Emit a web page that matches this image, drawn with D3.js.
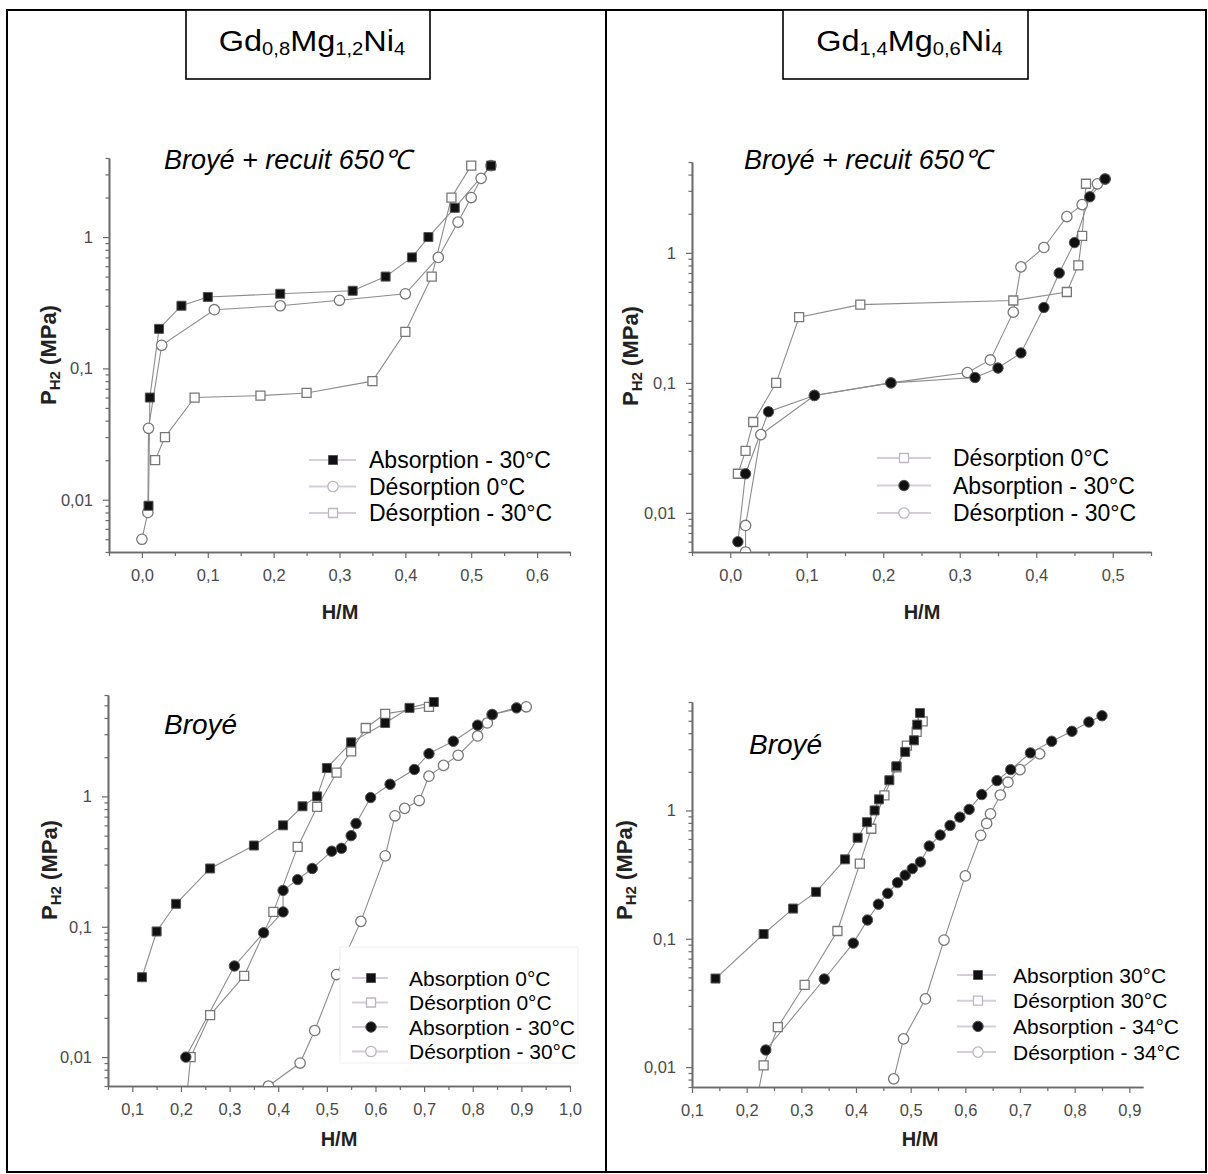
<!DOCTYPE html>
<html><head><meta charset="utf-8">
<script src="https://cdn.jsdelivr.net/npm/d3@7"></script>
<style>
body{margin:0;background:#fff;}
svg{display:block;font-family:"Liberation Sans",Arial,sans-serif;}
</style></head><body>
<svg id="c" width="1208" height="1174"></svg>
<script>
// ================= DATA =================
const compoundTitles = [
  [["Gd",0],["0,8",1],["Mg",0],["1,2",1],["Ni",0],["4",1]],
  [["Gd",0],["1,4",1],["Mg",0],["0,6",1],["Ni",0],["4",1]]
];
const treatmentLabels = ["Broyé + recuit 650℃", "Broyé + recuit 650℃", "Broyé", "Broyé"];
const xAxisTitle = "H/M";

// tick values
const tlXTicks = [0.0, 0.1, 0.2, 0.3, 0.4, 0.5, 0.6];
const trXTicks = [0.0, 0.1, 0.2, 0.3, 0.4, 0.5];
const blXTicks = [0.1, 0.2, 0.3, 0.4, 0.5, 0.6, 0.7, 0.8, 0.9, 1.0];
const brXTicks = [0.1, 0.2, 0.3, 0.4, 0.5, 0.6, 0.7, 0.8, 0.9];
const yTicks = [0.01, 0.1, 1];

// Top-left: Gd0,8Mg1,2Ni4 Broyé + recuit 650°C
const tlLegend = ["Absorption - 30°C", "Désorption 0°C", "Désorption - 30°C"];
const tlAbs30 = [[0.01,0.009],[0.012,0.06],[0.026,0.2],[0.06,0.30],[0.10,0.35],[0.21,0.37],[0.32,0.39],[0.37,0.50],[0.41,0.70],[0.435,1.0],[0.475,1.67],[0.53,3.5]];
const tlDes0  = [[0.0,0.005],[0.009,0.008],[0.01,0.035],[0.03,0.15],[0.11,0.28],[0.21,0.30],[0.30,0.33],[0.40,0.37],[0.45,0.70],[0.48,1.3],[0.50,2.0],[0.515,2.8],[0.53,3.5]];
const tlDes30 = [[0.02,0.02],[0.035,0.03],[0.08,0.06],[0.18,0.062],[0.25,0.065],[0.35,0.08],[0.40,0.19],[0.44,0.5],[0.47,2.0],[0.50,3.5]];

// Top-right: Gd1,4Mg0,6Ni4 Broyé + recuit 650°C
const trLegend = ["Désorption 0°C", "Absorption - 30°C", "Désorption - 30°C"];
const trDes0  = [[0.01,0.02],[0.02,0.03],[0.03,0.05],[0.06,0.1],[0.09,0.32],[0.17,0.40],[0.37,0.43],[0.44,0.5],[0.455,0.8],[0.46,1.35],[0.465,3.4]];
const trAbs30 = [[0.01,0.006],[0.02,0.02],[0.05,0.06],[0.11,0.08],[0.21,0.1],[0.32,0.11],[0.35,0.13],[0.38,0.17],[0.41,0.38],[0.43,0.7],[0.45,1.2],[0.47,2.7],[0.49,3.7]];
const trDes30 = [[0.02,0.005],[0.02,0.008],[0.04,0.04],[0.11,0.08],[0.21,0.1],[0.31,0.12],[0.34,0.15],[0.37,0.35],[0.38,0.78],[0.41,1.1],[0.44,1.9],[0.46,2.35],[0.48,3.4],[0.49,3.7]];

// Bottom-left: Gd0,8Mg1,2Ni4 Broyé
const blLegend = ["Absorption 0°C", "Désorption 0°C", "Absorption - 30°C", "Désorption - 30°C"];
const blAbs0  = [[0.12,0.041],[0.15,0.092],[0.19,0.15],[0.26,0.28],[0.35,0.42],[0.41,0.60],[0.45,0.84],[0.48,1.0],[0.50,1.65],[0.55,2.6],[0.62,3.66],[0.67,4.78],[0.72,5.3]];
const blDes0  = [[0.212,0.005],[0.22,0.01],[0.26,0.021],[0.33,0.042],[0.39,0.13],[0.44,0.41],[0.48,0.83],[0.52,1.52],[0.55,2.22],[0.58,3.35],[0.62,4.3],[0.71,4.87]];
const blAbs30 = [[0.21,0.01],[0.31,0.05],[0.37,0.09],[0.41,0.13],[0.41,0.19],[0.44,0.23],[0.47,0.28],[0.51,0.38],[0.53,0.40],[0.55,0.50],[0.56,0.62],[0.59,0.98],[0.63,1.24],[0.68,1.61],[0.71,2.13],[0.76,2.65],[0.81,3.52],[0.84,4.25],[0.89,4.78]];
const blDes30 = [[0.38,0.006],[0.445,0.009],[0.475,0.016],[0.52,0.043],[0.57,0.11],[0.62,0.35],[0.64,0.71],[0.66,0.81],[0.69,0.93],[0.71,1.43],[0.74,1.73],[0.77,2.07],[0.81,2.91],[0.83,3.66],[0.84,4.25],[0.91,4.87]];

// Bottom-right: Gd1,4Mg0,6Ni4 Broyé
const brLegend = ["Absorption 30°C", "Désorption 30°C", "Absorption - 34°C", "Désorption - 34°C"];
const brAbs30 = [[0.143,0.049],[0.231,0.109],[0.285,0.172],[0.327,0.232],[0.38,0.416],[0.403,0.613],[0.42,0.81],[0.434,1.0],[0.442,1.22],[0.461,1.72],[0.474,2.21],[0.49,2.86],[0.506,3.52],[0.512,4.66],[0.517,5.74]];
const brDes30 = [[0.22,0.006],[0.231,0.0103],[0.257,0.0205],[0.306,0.0437],[0.366,0.115],[0.407,0.385],[0.428,0.72],[0.452,1.31],[0.474,2.17],[0.493,3.2],[0.511,4.09],[0.522,4.95]];
const brAbs34 = [[0.235,0.0136],[0.342,0.0486],[0.395,0.0925],[0.421,0.14],[0.441,0.186],[0.458,0.226],[0.476,0.274],[0.49,0.313],[0.503,0.352],[0.518,0.397],[0.534,0.528],[0.554,0.643],[0.572,0.764],[0.59,0.887],[0.607,1.02],[0.63,1.33],[0.658,1.71],[0.683,2.08],[0.719,2.81],[0.758,3.46],[0.795,4.14],[0.826,4.89],[0.85,5.47]];
const brDes34 = [[0.469,0.0081],[0.487,0.0166],[0.527,0.034],[0.561,0.0977],[0.6,0.309],[0.628,0.64],[0.639,0.792],[0.646,0.94],[0.664,1.32],[0.678,1.66],[0.70,2.08],[0.736,2.76]];

// ================= LAYOUT =================
const panels = [
  { xDomain:[-0.05,0.65], yDomain:[0.004,4], left:109, right:570, top:158, bottom:552, xTicks:tlXTicks,
    label:treatmentLabels[0], labelX:164, labelY:169, labelFs:27, yTitle:[48,355], xTitle:[340,619],
    series:[{d:tlDes30,m:"sqO"},{d:tlDes0,m:"ciO"},{d:tlAbs30,m:"sqF"}],
    legend:{names:tlLegend, marks:["sqF","ciO","sqO"], lx1:309, lx2:356, sx:333, tx:369, y0:460, dy:26.5, fs:23} },
  { xDomain:[-0.05,0.55], yDomain:[0.005,5], left:692, right:1151, top:162, bottom:552, xTicks:trXTicks,
    label:treatmentLabels[1], labelX:744, labelY:169, labelFs:27, yTitle:[630,356], xTitle:[922,619],
    series:[{d:trDes0,m:"sqO"},{d:trDes30,m:"ciO"},{d:trAbs30,m:"ciF"}],
    legend:{names:trLegend, marks:["sqO","ciF","ciO"], lx1:877, lx2:931, sx:904, tx:953, y0:458, dy:27.5, fs:23} },
  { xDomain:[0.05,1.0], yDomain:[0.006,6], left:108, right:570, top:695, bottom:1086, xTicks:blXTicks,
    label:treatmentLabels[2], labelX:164, labelY:734, labelFs:28, yTitle:[49,870], xTitle:[339,1146],
    series:[{d:blDes0,m:"sqO"},{d:blDes30,m:"ciO"},{d:blAbs0,m:"sqF"},{d:blAbs30,m:"ciF"}],
    legend:{names:blLegend, marks:["sqF","sqO","ciF","ciO"], lx1:352, lx2:388, sx:371, tx:409, y0:978, dy:24.5, fs:21,
            bg:[340,947,238,116]} },
  { xDomain:[0.1,0.925], yDomain:[0.007,7], left:692, right:1143, top:702, bottom:1087, xTicks:brXTicks,
    label:treatmentLabels[3], labelX:749, labelY:754, labelFs:28, yTitle:[624,870], xTitle:[920,1146],
    series:[{d:brDes30,m:"sqO"},{d:brDes34,m:"ciO"},{d:brAbs30,m:"sqF"},{d:brAbs34,m:"ciF"}],
    legend:{names:brLegend, marks:["sqF","sqO","ciF","ciO"], lx1:957, lx2:996, sx:978, tx:1013, y0:975, dy:25.7, fs:21} }
];

const svg = d3.select("#c");
svg.append("rect").attr("width",1208).attr("height",1174).attr("fill","#fff");

// frame
svg.append("rect").attr("x",7).attr("y",10).attr("width",1199).attr("height",1162)
  .attr("fill","none").attr("stroke","#000").attr("stroke-width",2);
svg.append("line").attr("x1",606).attr("x2",606).attr("y1",10).attr("y2",1172)
  .attr("stroke","#000").attr("stroke-width",2);

// compound title boxes
const boxes = [[186,10,244,69],[783,10,245,69]];
compoundTitles.forEach((parts,i)=>{
  const b = boxes[i];
  svg.append("rect").attr("x",b[0]).attr("y",b[1]).attr("width",b[2]).attr("height",b[3])
    .attr("fill","#fff").attr("stroke","#000").attr("stroke-width",1.6);
  const cx = b[0]+b[2]/2+4;
  const t = svg.append("text").attr("x",0).attr("y",0).attr("text-anchor","middle")
    .attr("transform",`translate(${cx},51) scale(1.12,1)`)
    .attr("font-size",29).attr("fill","#000");
  parts.forEach(([s,sub])=>{
    const ts = t.append("tspan").text(s);
    if(sub) ts.attr("font-size",18).attr("baseline-shift","-22%");
  });
});

const fmtX = d => d3.format(".1f")(d).replace(".", ",");
const fmtY = d => (d >= 1 ? d3.format("d")(d) : String(d).replace(".", ","));

function markPath(m){
  const type = m.startsWith("sq") ? d3.symbolSquare : d3.symbolCircle;
  return d3.symbol().type(type).size(m.startsWith("sq") ? 81 : 85)();
}
function styleMark(sel, m, legend){
  if(m.endsWith("F")) sel.attr("fill","#111").attr("stroke","#555").attr("stroke-width",1);
  else sel.attr("fill","#fff").attr("stroke", legend ? "#bdb5c2" : "#777").attr("stroke-width",1.3);
}

panels.forEach((p,pi)=>{
  const x = d3.scaleLinear().domain(p.xDomain).range([p.left,p.right]);
  const y = d3.scaleLog().domain(p.yDomain).range([p.bottom,p.top]);
  const g = svg.append("g");

  // minor ticks
  const xMinor = d3.range(Math.ceil(p.xDomain[0]*20-1e-9), Math.floor(p.xDomain[1]*20+1e-9)+1).map(k=>k/20)
      .filter(v=>!p.xTicks.some(t=>Math.abs(t-v)<1e-9));
  const yMinor = [];
  for(let e=-3;e<=1;e++) for(let k=2;k<=9;k++){ const v=k*Math.pow(10,e); if(v>=p.yDomain[0]*0.999 && v<=p.yDomain[1]*1.001) yMinor.push(v); }

  const axStyle = sel => {
    sel.select(".domain").attr("stroke","#6a6a6a").attr("stroke-width",1.6);
    sel.selectAll(".tick line").attr("stroke","#6a6a6a").attr("stroke-width",1.2);
    sel.selectAll(".tick text").attr("fill","#4a4a4a").attr("font-size",16.5).attr("font-family","'Liberation Sans',Arial,sans-serif");
  };
  g.append("g").attr("transform",`translate(0,${p.bottom})`)
    .call(d3.axisBottom(x).tickValues(xMinor).tickSize(4).tickFormat("").tickSizeOuter(0)).call(axStyle);
  g.append("g").attr("transform",`translate(0,${p.bottom})`)
    .call(d3.axisBottom(x).tickValues(p.xTicks).tickSize(6).tickPadding(11).tickFormat(fmtX).tickSizeOuter(0)).call(axStyle);
  g.append("g").attr("transform",`translate(${p.left},0)`)
    .call(d3.axisLeft(y).tickValues(yMinor).tickSize(3.5).tickFormat("").tickSizeOuter(0)).call(axStyle);
  g.append("g").attr("transform",`translate(${p.left},0)`)
    .call(d3.axisLeft(y).tickValues(yTicks).tickSize(6).tickPadding(10).tickFormat(fmtY).tickSizeOuter(0)).call(axStyle);

  // clip
  const cid = "clip"+pi;
  svg.append("clipPath").attr("id",cid).append("rect")
    .attr("x",p.left-12).attr("y",p.top-12).attr("width",p.right-p.left+24).attr("height",p.bottom-p.top+12);
  const plot = g.append("g").attr("clip-path",`url(#${cid})`);
  const line = d3.line().x(d=>x(d[0])).y(d=>y(d[1]));
  p.series.forEach(s=>{
    plot.append("path").attr("d",line(s.d)).attr("fill","none").attr("stroke","#8c8c8c").attr("stroke-width",1.1);
  });
  p.series.forEach(s=>{
    plot.selectAll(null).data(s.d).join("path")
      .attr("transform",d=>`translate(${x(d[0])},${y(d[1])})`)
      .attr("d",markPath(s.m)).call(sel=>styleMark(sel,s.m,false));
  });

  // treatment label
  g.append("text").attr("x",p.labelX).attr("y",p.labelY).attr("font-size",p.labelFs).attr("font-style","italic")
    .attr("fill","#000").text(p.label);

  // axis titles
  const yt = g.append("text").attr("transform",`translate(${p.yTitle[0]},${p.yTitle[1]}) rotate(-90)`)
    .attr("text-anchor","middle").attr("font-weight","bold").attr("font-size",22).attr("fill","#222").attr("dy","0.35em");
  yt.append("tspan").text("P");
  yt.append("tspan").text("H2").attr("font-size",15).attr("baseline-shift","-25%");
  yt.append("tspan").text(" (MPa)");
  g.append("text").attr("x",p.xTitle[0]).attr("y",p.xTitle[1]).attr("text-anchor","middle")
    .attr("font-weight","bold").attr("font-size",20).attr("fill","#222").text(xAxisTitle);

  // legend
  const L = p.legend;
  if(L.bg) g.append("rect").attr("x",L.bg[0]).attr("y",L.bg[1]).attr("width",L.bg[2]).attr("height",L.bg[3])
      .attr("fill","#fff").attr("stroke","#f1eef4").attr("stroke-width",1);
  L.names.forEach((n,i)=>{
    const cy = L.y0 + i*L.dy;
    g.append("line").attr("x1",L.lx1).attr("x2",L.lx2).attr("y1",cy).attr("y2",cy)
      .attr("stroke","#d6cdda").attr("stroke-width",2);
    g.append("path").attr("transform",`translate(${L.sx},${cy})`).attr("d",markPath(L.marks[i]))
      .call(sel=>styleMark(sel,L.marks[i],true));
    g.append("text").attr("x",L.tx).attr("y",cy).attr("dy","0.36em").attr("font-size",L.fs)
      .attr("fill","#000").text(n);
  });
});
</script>
</body></html>
